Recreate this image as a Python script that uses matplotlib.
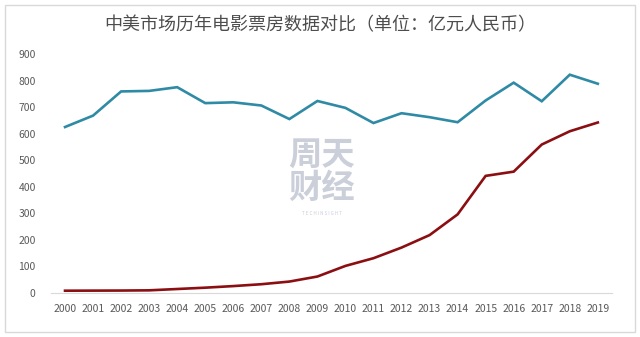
import matplotlib.pyplot as plt
import matplotlib.patches as patches

plt.rcParams['font.family'] = ['Noto Sans CJK SC', 'DejaVu Sans']

years = [str(y) for y in range(2000, 2020)]
# 美国票房（折合人民币，亿元）
usa = [625, 668, 759, 761, 775, 715, 718, 706, 655, 723,
       697, 640, 677, 662, 643, 725, 792, 722, 822, 788]
# 中国票房（亿元）
china = [8.6, 8.9, 9.2, 10, 15, 20, 26, 33, 43, 62,
         102, 131, 171, 218, 296, 441, 457, 559, 609, 642]
yticks = list(range(0, 1000, 100))

fig = plt.figure(figsize=(6.4, 3.37), dpi=100)
ax = fig.add_axes([0.0797, 0.1306, 0.8763, 0.7092])

x = range(len(years))
ax.plot(x, usa, color='#2f8aa6', lw=1.9, solid_joinstyle='miter')
ax.plot(x, china, color='#8b0f12', lw=1.9, solid_joinstyle='miter')

ax.set_xlim(-0.5, len(years) - 0.5)
ax.set_ylim(0, 900)
ax.set_xticks(list(x))
ax.set_xticklabels(years)
ax.set_yticks(yticks)
for s in ['top', 'right', 'left']:
    ax.spines[s].set_visible(False)
ax.spines['bottom'].set_color('#d9d9d9')
ax.tick_params(length=0, labelsize=7.5, colors='#595959')
ax.tick_params(axis='x', pad=8)
ax.tick_params(axis='y', pad=11)

fig.text(0.5, 0.925, '中美市场历年电影票房数据对比（单位：亿元人民币）',
         ha='center', va='center', fontsize=13, color='#4d4d4d', fontweight='medium')

# 水印
fig.text(0.503, 0.54, '周天', ha='center', va='center', fontsize=24,
         color='#cbcfda', fontweight='bold', zorder=0)
fig.text(0.503, 0.44, '财经', ha='center', va='center', fontsize=24,
         color='#cbcfda', fontweight='bold', zorder=0)
fig.text(0.503, 0.365, 'T E C H I N S I G H T', ha='center', va='center', fontsize=3.3,
         color='#cbcfda', zorder=0)

fig.patches.append(patches.Rectangle((5 / 640, 5 / 337), 630 / 640, 327 / 337,
                                     transform=fig.transFigure, fill=False,
                                     edgecolor='#d9d9d9', lw=1))

fig.savefig('out.png', dpi=100)
